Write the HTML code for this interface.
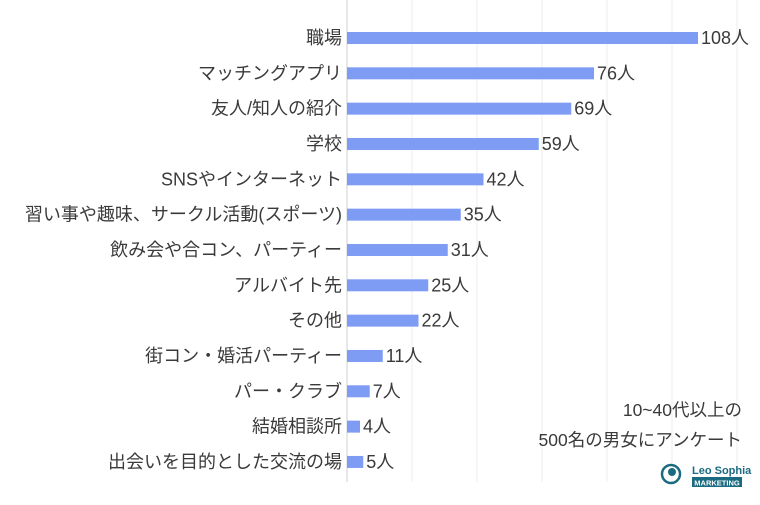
<!DOCTYPE html>
<html><head><meta charset="utf-8"><style>
body{margin:0;background:#fff;}
svg text{font-family:"Liberation Sans","Noto Sans CJK JP",sans-serif;fill:#3a3a3a;}
</style></head><body>
<svg width="760" height="500" viewBox="0 0 760 500">
<g id="grid"></g><g id="bars"></g>
<text x="742" y="416" font-size="17.5" text-anchor="end">10~40代以上の</text>
<text x="742" y="446" font-size="17.5" text-anchor="end">500名の男女にアンケート</text>
<g>
<circle cx="671" cy="474" r="9" fill="none" stroke="#1a6b80" stroke-width="2.5"/>
<circle cx="672" cy="472" r="4" fill="#1a6b80"/>
<text x="692" y="474" font-size="11" font-weight="bold" style="fill:#1a6b80">Leo Sophia</text>
<rect x="692" y="477" width="50" height="10" fill="#1a6b80"/>
<text x="717" y="485.5" font-size="7.5" font-weight="bold" text-anchor="middle" style="fill:#fff">MARKETING</text>
</g>
</svg>
<script>
const categories=["職場","マッチングアプリ","友人/知人の紹介","学校","SNSやインターネット","習い事や趣味、サークル活動(スポーツ)","飲み会や合コン、パーティー","アルバイト先","その他","街コン・婚活パーティー","パー・クラブ","結婚相談所","出会いを目的とした交流の場"];
const values=[108,76,69,59,42,35,31,25,22,11,7,4,5];
const gridTicks=[0,20,40,60,80,100,120];
const NS="http://www.w3.org/2000/svg";
const x0=347,scale=3.25,y0=38,step=35.33,bh=12;
const xs=v=>x0+v*scale, ys=i=>y0+i*step;
const grid=document.getElementById('grid'),bars=document.getElementById('bars');
gridTicks.forEach(t=>{const l=document.createElementNS(NS,'line');
l.setAttribute('x1',xs(t));l.setAttribute('x2',xs(t));l.setAttribute('y1',0);l.setAttribute('y2',482);
l.setAttribute('stroke',t===0?'#d0d0d0':'#ececec');l.setAttribute('stroke-width',1);


grid.appendChild(l);});
categories.forEach((c,i)=>{const y=ys(i);
const r=document.createElementNS(NS,'rect');
r.setAttribute('x',x0);r.setAttribute('y',y-bh/2);r.setAttribute('width',values[i]*scale);r.setAttribute('height',bh);r.setAttribute('fill','#7f9cf5');


bars.appendChild(r);
const lt=document.createElementNS(NS,'text');
lt.setAttribute('x',x0-5);lt.setAttribute('y',y+6);lt.setAttribute('font-size','18');lt.setAttribute('text-anchor','end');lt.textContent=c;


bars.appendChild(lt);
const vt=document.createElementNS(NS,'text');
vt.setAttribute('x',xs(values[i])+3);vt.setAttribute('y',y+6);vt.setAttribute('font-size','18');vt.textContent=values[i]+'人';


bars.appendChild(vt);});
</script>
</body></html>
